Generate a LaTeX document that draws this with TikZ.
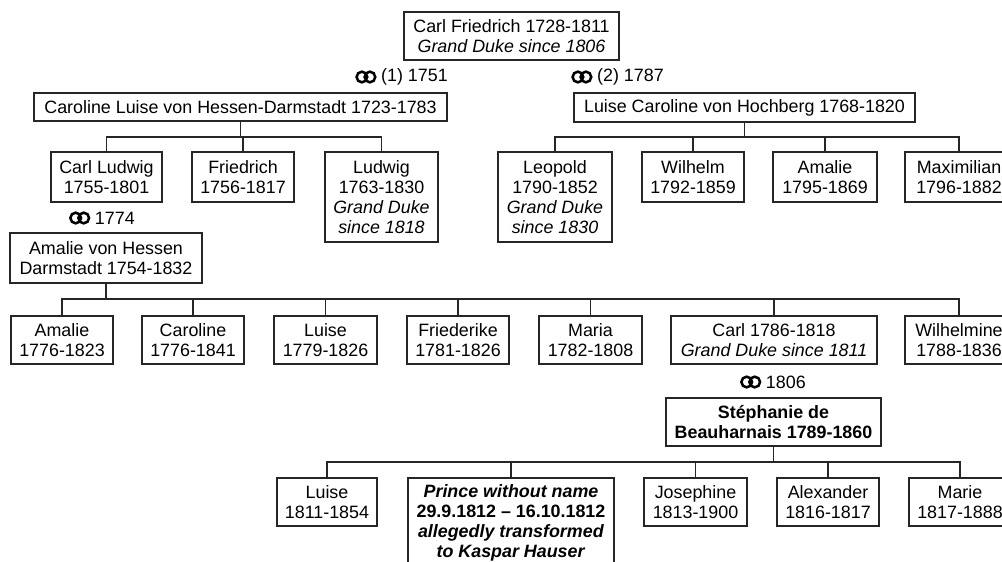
\documentclass[tikz,border=0pt]{standalone}
\usepackage{fontspec}
\setmainfont{Liberation Sans}
\begin{document}
\begin{tikzpicture}[x=0.75pt,y=-0.75pt,
  every node/.style={font=\fontsize{13.4}{15}\selectfont},
  box/.style 2 args={draw=black!85, line width=1.1pt, inner sep=0pt, align=center,
    minimum width=#1*0.75pt, minimum height=#2*0.75pt},
  lbl/.style={inner sep=0pt, anchor=east},
  conn/.style={draw=black!85, line width=1.1pt},
  ring/.style={draw=black, line width=1.9pt}]
\useasboundingbox (0,0) rectangle (1002,561);
\clip (0,0) rectangle (1002,561);

% generation 1
\node[box={215}{48}] (cf) at (511.5,36) {Carl Friedrich 1728-1811\\\textit{Grand Duke since 1806}};

% marriages
\node[lbl] (m1) at (448,77) {(1) 1751};
\node[lbl] (m2) at (664,77) {(2) 1787};
\node[box={413}{28}] (clh) at (240.5,107) {Caroline Luise von Hessen-Darmstadt 1723-1783};
\node[box={341}{29}] (lch) at (744.5,107.5) {Luise Caroline von Hochberg 1768-1820};

% children of first marriage
\node[box={111}{50}] (cl) at (106.5,177) {Carl Ludwig\\1755-1801};
\node[box={102}{50}] (fr) at (243,177) {Friedrich\\1756-1817};
\node[box={113}{90}] (lu) at (381.5,197) {Ludwig\\1763-1830\\\textit{Grand Duke}\\\textit{since 1818}};

% children of second marriage
\node[box={114}{90}] (le) at (555,197) {Leopold\\1790-1852\\\textit{Grand Duke}\\\textit{since 1830}};
\node[box={102}{50}] (wi) at (693,177) {Wilhelm\\1792-1859};
\node[box={104}{50}] (am) at (825,177) {Amalie\\1795-1869};
\node[box={108}{50}] (mx) at (959,177) {Maximilian\\1796-1882};

% Carl Ludwig's marriage
\node[lbl] (m3) at (135,218) {1774};
\node[box={192}{50}] (avh) at (106,258) {Amalie von Hessen\\Darmstadt 1754-1832};

\node[box={102}{48}] (a1) at (62,340) {Amalie\\1776-1823};
\node[box={102}{48}] (ca) at (193,340) {Caroline\\1776-1841};
\node[box={103}{48}] (l2) at (325.5,340) {Luise\\1779-1826};
\node[box={102}{48}] (fk) at (458,340) {Friederike\\1781-1826};
\node[box={103}{48}] (ma) at (590.5,340) {Maria\\1782-1808};
\node[box={206}{48}] (ca2) at (774,340) {Carl 1786-1818\\\textit{Grand Duke since 1811}};
\node[box={108}{48}] (wm) at (959,340) {Wilhelmine\\1788-1836};

% Carl's marriage
\node[lbl] (m4) at (806,382) {1806};
\node[box={215}{48}] (st) at (773.5,422) {\textbf{Stéphanie de}\\\textbf{Beauharnais 1789-1860}};

\node[box={100}{48}] (l3) at (327,502) {Luise\\1811-1854};
\node[box={206}{89}] (pr) at (511,522.5) {\textbf{\textit{Prince without name}}\\\textbf{29.9.1812 – 16.10.1812}\\\textbf{\textit{allegedly transformed}}\\\textbf{\textit{to Kaspar Hauser}}};
\node[box={103}{48}] (jo) at (695.5,502) {Josephine\\1813-1900};
\node[box={102}{48}] (al) at (828,502) {Alexander\\1816-1817};
\node[box={102}{48}] (mr) at (960,502) {Marie\\1817-1888};

% marriage rings
\foreach \m in {m1,m2,m3,m4}{
  \path (\m.west) ++(-11,0) coordinate (\m b) ++(-8,0) coordinate (\m a);
  \draw[ring] (\m a) circle[radius=4pt] (\m b) circle[radius=4pt];
}

% bar levels
\coordinate (y1) at (0,137);
\coordinate (y2) at (0,299);
\coordinate (y3) at (0,462);

\foreach \c in {cl,fr,lu}{
  \draw[conn] (clh.south) -- (clh.south |- y1) -| (\c.north);
}
\foreach \c in {le,wi,am,mx}{
  \draw[conn] (lch.south) -- (lch.south |- y1) -| (\c.north);
}
\foreach \c in {a1,ca,l2,fk,ma,ca2,wm}{
  \draw[conn] (avh.south) -- (avh.south |- y2) -| (\c.north);
}
\foreach \c in {l3,pr,jo,al,mr}{
  \draw[conn] (st.south) -- (st.south |- y3) -| (\c.north);
}
\end{tikzpicture}
\end{document}
